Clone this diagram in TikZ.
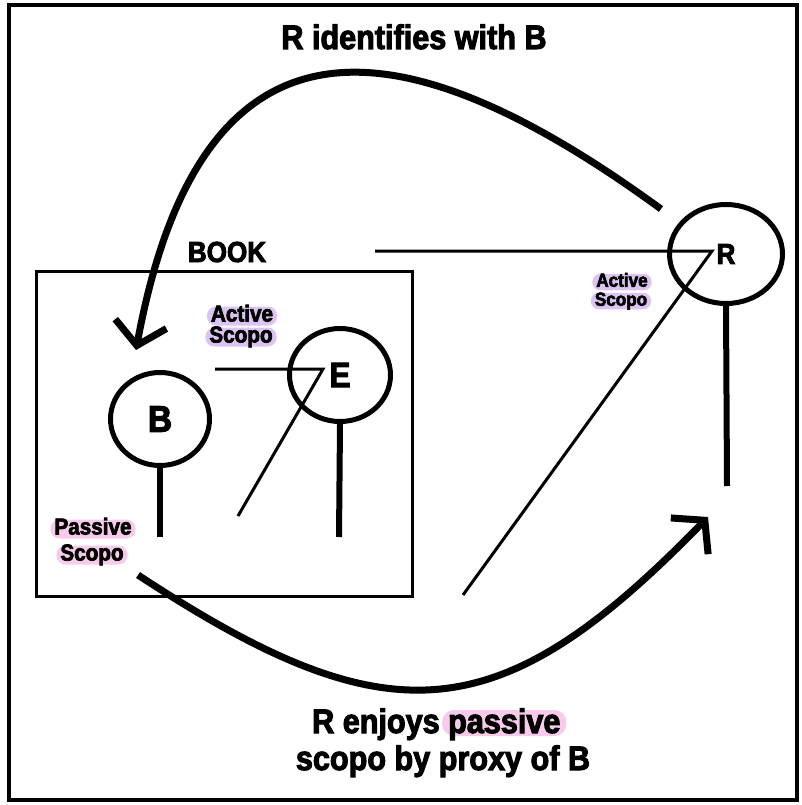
\documentclass[tikz,border=0pt]{standalone}
\usepackage{fontspec}
\setmainfont{Liberation Sans}
\newfontfamily\heavy[FakeBold=3,FakeStretch=0.9]{Liberation Sans Bold}
\usetikzlibrary{shapes.geometric,arrows.meta}
\definecolor{lav}{HTML}{DCC4F2}
\definecolor{pnk}{HTML}{F7CBE9}
\begin{document}
\begin{tikzpicture}[x=1pt,y=-1pt,
  bigtxt/.style={font=\heavy\fontsize{34}{38}\selectfont, inner sep=0pt},
  booktxt/.style={font=\heavy\fontsize{29}{32}\selectfont, inner sep=0pt},
  circ/.style={ellipse, draw, line width=5pt, inner sep=0pt},
  stem/.style={line width=6pt},
  pointer/.style={line width=3pt, line join=miter},
  pillA/.style={font=\heavy\fontsize{23}{24}\selectfont, rounded corners=9pt,
     inner xsep=4pt, inner ysep=0pt, text height=15pt, text depth=4pt},
  pillB/.style={font=\heavy\fontsize{19}{20}\selectfont, rounded corners=8pt,
     inner xsep=4pt, inner ysep=0pt, text height=13pt, text depth=3.5pt},
  bigarrow/.style={line width=7pt, -{Straight Barb[length=22pt,width=52pt]}}
]
\useasboundingbox (0,0) rectangle (802,805);
\draw[line width=4pt] (9,5) rectangle (797,800);

% title
\node[bigtxt, anchor=base] (ttl) at (414,49) {R identifies with B};

% book
\node[booktxt, anchor=base] (booklbl) at (227,262) {BOOK};
\draw[line width=3pt] (36,271) rectangle (412,596);

% circles
\node[circ, minimum width=113pt, minimum height=99pt,
      font=\heavy\fontsize{29}{30}\selectfont] (R) at (726,254) {R};
\node[circ, minimum width=101pt, minimum height=93pt,
      font=\heavy\fontsize{35}{36}\selectfont] (E) at (340,375) {E};
\node[circ, minimum width=99pt, minimum height=93pt,
      font=\heavy\fontsize{37}{38}\selectfont] (B) at (160,419) {B};

% stems
\coordinate (Rend) at (727,486);
\coordinate (Eend) at (339,537);
\coordinate (Bend) at (160,537);
\draw[stem] (R.south) -- (Rend);
\draw[stem] (E.south) -- (Eend);
\draw[stem] (B.south) -- (Bend);

% pointers
\coordinate (Rh) at (375,251);
\coordinate (Rc) at (712,251);
\coordinate (Rd) at (463,595);
\draw[pointer] (Rh) -- (Rc) -- (Rd);
\coordinate (Eh) at (215,369);
\coordinate (Ec) at (323,369);
\coordinate (Ed) at (238,516);
\draw[pointer] (Eh) -- (Ec) -- (Ed);

% labels
\node[pillA, fill=lav] (ea1) at (242,316) {Active};
\node[pillA, fill=lav] (ea2) at (241,337) {Scopo};
\node[pillB, fill=lav] (ra1) at (622,282) {Active};
\node[pillB, fill=lav] (ra2) at (621,301) {Scopo};
\node[pillA, fill=pnk] (bp1) at (93,529) {Passive};
\node[pillA, fill=pnk] (bp2) at (92,555) {Scopo};

% arrows
\coordinate (topstart) at (661,209);
\coordinate (toptip) at (136,350);
\draw[bigarrow] (topstart) .. controls (410,26) and (203,-13) .. (toptip);
\coordinate (botstart) at (138,575);
\coordinate (bottip) at (708,517);
\draw[bigarrow] (botstart) .. controls (389,740) and (499,732) .. (bottip);

% bottom text
\node[bigtxt, anchor=base west] (enj) at (312,733) {R enjoys};
\node[bigtxt, anchor=base west, fill=pnk, rounded corners=12pt, inner xsep=6pt,
      inner ysep=0pt, text height=23pt, text depth=3pt] (pas)
      at ([xshift=2pt]enj.base east) {passive};
\node[bigtxt, anchor=base] (scp) at (443,770) {scopo by proxy of B};
\end{tikzpicture}
\end{document}
